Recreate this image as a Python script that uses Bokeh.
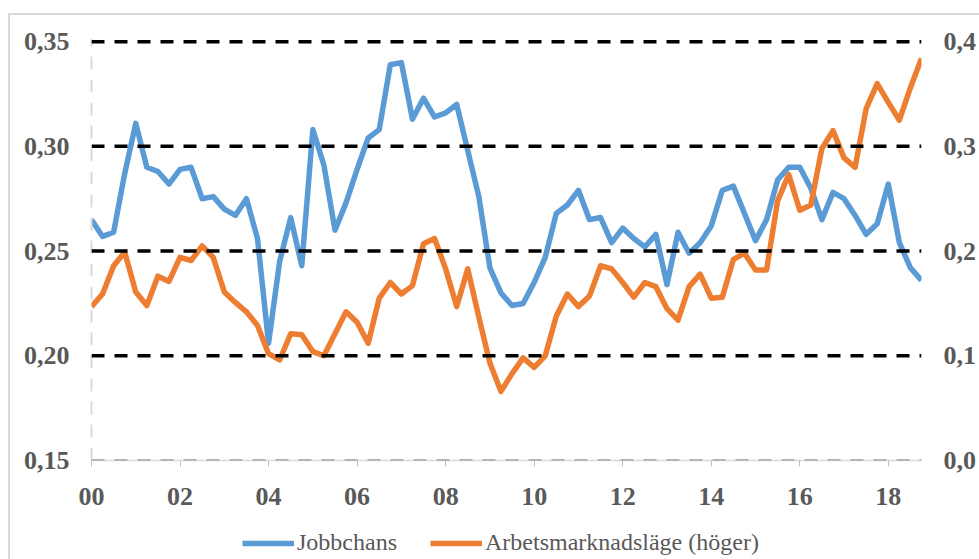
from bokeh.plotting import figure
from bokeh.layouts import column
from bokeh.models import (Range1d, LinearAxis, FixedTicker, CustomJSTickFormatter,
                          Legend, LegendItem, Span, ColumnDataSource)
from bokeh.embed import file_html
from bokeh.resources import INLINE

# ---- data (quarterly, 2000Q1 .. 2018Q4) ----
years = list(range(2000, 2019))
quarters_per_year = 4
jobbchans = [0.265, 0.257, 0.259, 0.287, 0.311, 0.290, 0.288, 0.282, 0.289, 0.290,
             0.275, 0.276, 0.270, 0.267, 0.275, 0.256, 0.206, 0.245, 0.266, 0.243,
             0.308, 0.291, 0.260, 0.273, 0.289, 0.304, 0.308, 0.339, 0.340, 0.313,
             0.323, 0.314, 0.316, 0.320, 0.298, 0.276, 0.242, 0.230, 0.224, 0.225,
             0.235, 0.247, 0.268, 0.272, 0.279, 0.265, 0.266, 0.254, 0.261, 0.256,
             0.252, 0.258, 0.234, 0.259, 0.249, 0.254, 0.262, 0.279, 0.281, 0.268,
             0.255, 0.265, 0.284, 0.290, 0.290, 0.280, 0.265, 0.278, 0.275, 0.267,
             0.258, 0.263, 0.282, 0.254, 0.242, 0.236]
arbetsmarknadslage = [0.147, 0.159, 0.186, 0.199, 0.161, 0.148, 0.176, 0.171, 0.194, 0.191,
                      0.205, 0.194, 0.161, 0.151, 0.142, 0.129, 0.102, 0.096, 0.121, 0.120,
                      0.104, 0.100, 0.121, 0.142, 0.132, 0.112, 0.155, 0.170, 0.159, 0.167,
                      0.207, 0.212, 0.183, 0.147, 0.183, 0.137, 0.093, 0.066, 0.083, 0.098,
                      0.089, 0.100, 0.138, 0.159, 0.147, 0.157, 0.186, 0.183, 0.170, 0.156,
                      0.170, 0.166, 0.145, 0.134, 0.166, 0.178, 0.155, 0.156, 0.192, 0.198,
                      0.182, 0.182, 0.248, 0.273, 0.239, 0.244, 0.298, 0.315, 0.289, 0.280,
                      0.336, 0.360, 0.342, 0.325, 0.356, 0.384]
x_ticks = [0, 2, 4, 6, 8, 10, 12, 14, 16, 18]
x_tick_labels = ["00", "02", "04", "06", "08", "10", "12", "14", "16", "18"]
left_ticks = [0.15, 0.20, 0.25, 0.30, 0.35]
right_ticks = [0.0, 0.1, 0.2, 0.3, 0.4]
series_names = ["Jobbchans", "Arbetsmarknadsläge (höger)"]

n = len(jobbchans)
xq = [i / quarters_per_year for i in range(n)]
src = ColumnDataSource(dict(x=xq, job=jobbchans, arb=arbetsmarknadslage))

BLUE = "#5B9BD5"
ORANGE = "#ED7D31"
GRAY = "#595959"
FONT = "Liberation Serif"
LW = 5.5
TOP_PAD = 0.0015  # small headroom so the top grid line is not cut by the frame edge

p = figure(width=969, height=500, output_backend="svg", toolbar_location=None,
           x_range=Range1d(0, xq[-1]),
           y_range=Range1d(left_ticks[0], left_ticks[-1] + TOP_PAD),
           min_border_left=81, min_border_right=57, min_border_top=23, min_border_bottom=55,
           outline_line_color=None, background_fill_color="white", border_fill_color="white")
p.extra_y_ranges = {"right": Range1d(right_ticks[0], right_ticks[-1] + 2 * TOP_PAD)}

# grid (drawn as spans)
p.xgrid.visible = False
p.ygrid.visible = False
for t in left_ticks[1:]:
    p.add_layout(Span(location=t, dimension="width", line_color="black",
                      line_width=3.5, line_dash="13 10"))
p.add_layout(Span(location=left_ticks[0], dimension="width", line_color="#9a9a9a",
                  line_width=2.5, line_dash="13 10"))

fmt = CustomJSTickFormatter(code="return tick.toFixed(2).replace('.', ',');")
fmt_r = CustomJSTickFormatter(code="return tick.toFixed(1).replace('.', ',');")

# x axis
xa = p.xaxis[0]
xa.ticker = FixedTicker(ticks=x_ticks)
xa.major_label_overrides = {t: l for t, l in zip(x_ticks, x_tick_labels)}
xa.minor_tick_line_color = None
xa.major_tick_in = 0
xa.major_tick_out = 6
xa.major_tick_line_color = "#bfbfbf"
xa.axis_line_color = "#d9d9d9"
xa.axis_line_width = 1.5
xa.major_label_standoff = 21
xa.major_label_text_font = FONT
xa.major_label_text_font_style = "bold"
xa.major_label_text_font_size = "26px"
xa.major_label_text_color = GRAY

# left axis
ya = p.yaxis[0]
ya.ticker = FixedTicker(ticks=left_ticks)
ya.formatter = fmt
ya.minor_tick_line_color = None
ya.major_tick_in = 0
ya.major_tick_out = 0
ya.axis_line_color = "#d9d9d9"
ya.axis_line_width = 2
ya.axis_line_dash = "13 10"
ya.major_label_standoff = 22
ya.major_label_text_font = FONT
ya.major_label_text_font_style = "bold"
ya.major_label_text_font_size = "26px"
ya.major_label_text_color = GRAY

# right axis
ra = LinearAxis(y_range_name="right", ticker=FixedTicker(ticks=right_ticks), formatter=fmt_r)
ra.minor_tick_line_color = None
ra.major_tick_in = 0
ra.major_tick_out = 0
ra.axis_line_color = None
ra.major_label_standoff = 22
ra.major_label_text_font = FONT
ra.major_label_text_font_style = "bold"
ra.major_label_text_font_size = "26px"
ra.major_label_text_color = GRAY
p.add_layout(ra, "right")

p.line("x", "job", source=src, line_color=BLUE, line_width=LW, line_join="round")
p.line("x", "arb", source=src, line_color=ORANGE, line_width=LW, line_join="round",
       y_range_name="right")

# legend strip below the chart (series drawn outside its visible range, only legend shows)
p2 = figure(width=969, height=44, output_backend="svg", toolbar_location=None,
            x_range=Range1d(0, xq[-1]), y_range=Range1d(10, 11),
            min_border_left=0, min_border_right=0, min_border_top=0, min_border_bottom=0,
            outline_line_color=None, background_fill_color="white", border_fill_color="white")
p2.axis.visible = False
p2.grid.visible = False
l1 = p2.line("x", "job", source=src, line_color=BLUE, line_width=LW)
l2 = p2.line("x", "arb", source=src, line_color=ORANGE, line_width=LW)
legend = Legend(items=[LegendItem(label=series_names[0], renderers=[l1]),
                       LegendItem(label=series_names[1], renderers=[l2])],
                orientation="horizontal", location=(151, 3),
                label_text_font=FONT, label_text_font_size="24px", label_text_color=GRAY,
                glyph_width=52, glyph_height=20, label_standoff=3, spacing=33,
                padding=0, margin=0, border_line_color=None, background_fill_alpha=0)
p2.add_layout(legend, "center")

layout = column(p, p2, spacing=0,
                styles={"border-left": "2px solid #d9d9d9", "border-top": "2px solid #d9d9d9",
                        "margin-top": "13px", "margin-left": "8px"})

open("out.html", "w").write(file_html(layout, INLINE))
